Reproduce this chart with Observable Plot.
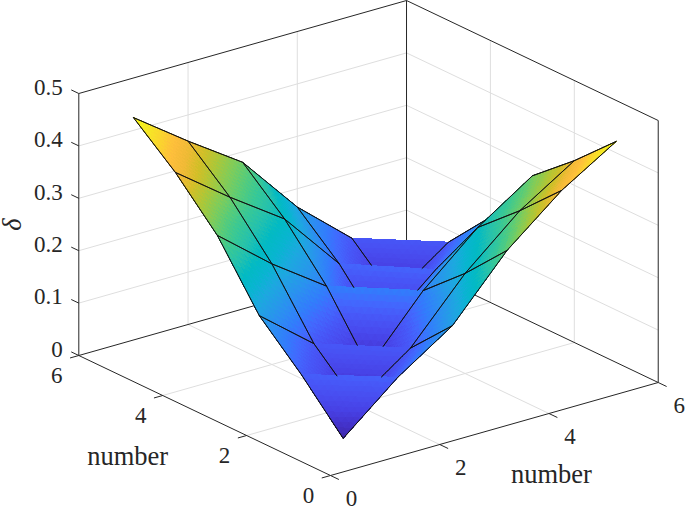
<!DOCTYPE html>
<html>
<head>
<meta charset="utf-8">
<script src="https://cdn.jsdelivr.net/npm/d3@7"></script>
<script src="https://cdn.jsdelivr.net/npm/@observablehq/plot@0.6"></script>
<style>html,body{margin:0;padding:0;background:#fff}svg{display:block}</style>
</head>
<body>
<div id="chart"></div>
<script>
// ---- data ----
const numbers = [1, 2, 3, 4, 5, 6];
const deltaY1 = [0.003, 0.090, 0.159, 0.273, 0.358, 0.422];
const deltaY2 = [0.087, 0.004, 0.078, 0.191, 0.281, 0.347];
const deltaY3 = [0.161, 0.078, 0.004, 0.120, 0.211, 0.280];
const deltaY4 = [0.276, 0.192, 0.120, 0.003, 0.0925, 0.163];
const deltaY5 = [0.358, 0.281, 0.210, 0.095, 0.003, 0.077];
const deltaY6 = [0.4245, 0.350, 0.280, 0.165, 0.076, 0.002];
const deltaRows = [deltaY1, deltaY2, deltaY3, deltaY4, deltaY5, deltaY6];
const xyTicks = [0, 2, 4, 6];
const zTicks = [0, 0.1, 0.2, 0.3, 0.4, 0.5];
const zTickLabels = ["0", "0.1", "0.2", "0.3", "0.4", "0.5"];
const axisLabel = "number";
const zLabel = "δ";

// parula colour map
const parula = [
  [0.2422,0.1504,0.6603],[0.2647,0.1978,0.7952],[0.2783,0.2559,0.8991],[0.2813,0.3006,0.9414],
  [0.2795,0.3447,0.9717],[0.2602,0.4123,0.9952],[0.1963,0.4847,0.9892],[0.1764,0.5499,0.9520],
  [0.1460,0.6091,0.9079],[0.1113,0.6635,0.8763],[0.0297,0.7082,0.8163],[0.0067,0.7312,0.7660],
  [0.1408,0.7584,0.6842],[0.2161,0.7843,0.5923],[0.3406,0.8008,0.4789],[0.5044,0.7993,0.3480],
  [0.6720,0.7793,0.2227],[0.8203,0.7498,0.1535],[0.9393,0.7288,0.2100],[0.9956,0.7434,0.2371],
  [0.9786,0.8386,0.1766],[0.9597,0.9135,0.1423],[0.9769,0.9839,0.0805]
].map(c => d3.rgb(c[0]*255, c[1]*255, c[2]*255).formatHex());

// ---- view: orthographic projection of the data box (az -37.5) ----
const view = {ox: 330, oy: 475, xx: 54.62, xy: 41.95, yx: 15.5, yy: 20, zy: 524};
const px = (x, y) => view.ox + view.xx * x - view.xy * y;
const py = (x, y, z) => view.oy - view.yx * x - view.yy * y - view.zy * z;
const near = (x, y, z) => -39 * x - 50.8 * y + 206.6 * z;

// ---- triangulated surface ----
const bigTris = [];
for (let j = 0; j < 5; ++j) for (let i = 0; i < 5; ++i) {
  const v = (a, b) => ({x: numbers[a], y: numbers[b], z: deltaRows[b][a]});
  bigTris.push([v(i, j), v(i + 1, j), v(i, j + 1)]);
  bigTris.push([v(i + 1, j), v(i + 1, j + 1), v(i, j + 1)]);
}
const steps = 12;
const lerp3 = (t, a, b, c) => {
  const f = k => (a[k] * t[0] + b[k] * t[1] + c[k] * t[2]) / steps;
  return {x: f("x"), y: f("y"), z: f("z")};
};
const small = [];
for (const [a, b, c] of bigTris) {
  for (let p = 0; p < steps; ++p) for (let q = 0; q < steps - p; ++q) {
    const r = steps - p - q;
    small.push([lerp3([p, q, r], a, b, c), lerp3([p + 1, q, r - 1], a, b, c), lerp3([p, q + 1, r - 1], a, b, c)]);
    if (r >= 2) small.push([lerp3([p + 1, q, r - 1], a, b, c), lerp3([p + 1, q + 1, r - 2], a, b, c), lerp3([p, q + 1, r - 1], a, b, c)]);
  }
}
const centroid = t => ({x: d3.mean(t, d => d.x), y: d3.mean(t, d => d.y), z: d3.mean(t, d => d.z)});
small.sort((s, t) => {
  const a = centroid(s), b = centroid(t);
  return near(a.x, a.y, a.z) - near(b.x, b.y, b.z);
});
const surfaceRows = [];
small.forEach((t, id) => {
  const v = centroid(t).z;
  t.forEach(p => surfaceRows.push({id, v, sx: px(p.x, p.y), sy: py(p.x, p.y, p.z)}));
});

// ---- mesh lines with hidden parts removed ----
function hidden(x, y, z) {
  const sx = px(x, y), sy = py(x, y, z), n = near(x, y, z);
  for (const [a, b, c] of bigTris) {
    const ax = px(a.x, a.y), ay = py(a.x, a.y, a.z);
    const bx = px(b.x, b.y), by = py(b.x, b.y, b.z);
    const cx = px(c.x, c.y), cy = py(c.x, c.y, c.z);
    const den = (by - cy) * (ax - cx) + (cx - bx) * (ay - cy);
    if (Math.abs(den) < 1e-6) continue;
    const l1 = ((by - cy) * (sx - cx) + (cx - bx) * (sy - cy)) / den;
    const l2 = ((cy - ay) * (sx - cx) + (ax - cx) * (sy - cy)) / den;
    const l3 = 1 - l1 - l2;
    if (l1 < 0 || l2 < 0 || l3 < 0) continue;
    const nt = l1 * near(a.x, a.y, a.z) + l2 * near(b.x, b.y, b.z) + l3 * near(c.x, c.y, c.z);
    if (nt > n + 0.6) return true;
  }
  return false;
}
const meshRows = [];
let segId = 0;
function addEdge(p, q) {
  const N = 60;
  for (let k = 0; k < N; ++k) {
    const f = t => ({x: p.x + (q.x - p.x) * t, y: p.y + (q.y - p.y) * t, z: p.z + (q.z - p.z) * t});
    const a = f(k / N), b = f((k + 1) / N), m = f((k + 0.5) / N);
    if (hidden(m.x, m.y, m.z)) continue;
    segId++;
    meshRows.push({id: segId, sx: px(a.x, a.y), sy: py(a.x, a.y, a.z)});
    meshRows.push({id: segId, sx: px(b.x, b.y), sy: py(b.x, b.y, b.z)});
  }
}
const node = (a, b) => ({x: numbers[a], y: numbers[b], z: deltaRows[b][a]});
for (let a = 0; a < 6; ++a) for (let b = 0; b < 6; ++b) {
  if (a < 5) addEdge(node(a, b), node(a + 1, b));
  if (b < 5) addEdge(node(a, b), node(a, b + 1));
}

// ---- box, grid, ticks ----
const seg = (a, b) => ({x1: px(a[0], a[1]), y1: py(a[0], a[1], a[2]), x2: px(b[0], b[1]), y2: py(b[0], b[1], b[2])});
const grid = [];
for (const t of [2, 4]) {
  grid.push(seg([t, 0, 0], [t, 6, 0]), seg([0, t, 0], [6, t, 0]), seg([t, 6, 0], [t, 6, 0.5]), seg([6, t, 0], [6, t, 0.5]));
}
for (const z of zTicks.slice(1, -1)) grid.push(seg([0, 6, z], [6, 6, z]), seg([6, 6, z], [6, 0, z]));
const box = [
  seg([0, 0, 0], [6, 0, 0]), seg([0, 0, 0], [0, 6, 0]), seg([6, 0, 0], [6, 6, 0]), seg([0, 6, 0], [6, 6, 0]),
  seg([0, 6, 0], [0, 6, 0.5]), seg([6, 6, 0], [6, 6, 0.5]), seg([6, 0, 0], [6, 0, 0.5]),
  seg([0, 6, 0.5], [6, 6, 0.5]), seg([6, 6, 0.5], [6, 0, 0.5])
];
const ticks = [];
for (const t of xyTicks) ticks.push(seg([t, 0, 0], [t, -0.2, 0]), seg([0, t, 0], [-0.16, t, 0]));
for (const z of zTicks) ticks.push(seg([0, 6, z], [0, 6.18, z]));

const serif = "Liberation Serif, Times New Roman, serif";
const ink = "#262626";
const tickSize = 23;
const labelSize = 26.5;

const plot = Plot.plot({
  width: 685,
  height: 506,
  marginTop: 0, marginRight: 0, marginBottom: 0, marginLeft: 0,
  x: {domain: [0, 685], range: [0, 685], axis: null},
  y: {domain: [0, 506], range: [0, 506], axis: null},
  color: {type: "linear", domain: d3.extent(deltaRows.flat()), interpolate: d3.piecewise(d3.interpolateRgb, parula)},
  style: {background: "#fff"},
  marks: [
    Plot.link(grid, {x1: "x1", y1: "y1", x2: "x2", y2: "y2", stroke: "#dedede", strokeWidth: 1}),
    Plot.link(box, {x1: "x1", y1: "y1", x2: "x2", y2: "y2", stroke: ink, strokeWidth: 1}),
    Plot.link(ticks, {x1: "x1", y1: "y1", x2: "x2", y2: "y2", stroke: ink, strokeWidth: 1}),
    Plot.line(surfaceRows, {x: "sx", y: "sy", z: "id", fill: "v", stroke: "v", strokeWidth: 1, shapeRendering: "crispEdges", curve: "linear-closed"}),
    Plot.line(meshRows, {x: "sx", y: "sy", z: "id", stroke: "#111", strokeWidth: 1, strokeLinecap: "round"}),
    Plot.text(zTicks, {x: z => px(0, 6), y: z => py(0, 6, z), text: (z, i) => zTickLabels[i], textAnchor: "end", dx: -16, dy: -6, fontSize: tickSize, fontFamily: serif, fill: ink}),
    Plot.text(xyTicks, {x: t => px(0, t), y: t => py(0, t, 0), text: t => String(t), textAnchor: "middle", dx: -22, dy: 20, fontSize: tickSize, fontFamily: serif, fill: ink}),
    Plot.text(xyTicks, {x: t => px(t, 0), y: t => py(t, 0, 0), text: t => String(t), textAnchor: "middle", dx: 21, dy: 23, fontSize: tickSize, fontFamily: serif, fill: ink}),
    Plot.text([axisLabel], {x: () => px(0, 3), y: () => py(0, 3, 0), text: d => d, textAnchor: "middle", dx: -77, dy: 41, fontSize: labelSize, fontFamily: serif, fill: ink}),
    Plot.text([axisLabel], {x: () => px(3, 0), y: () => py(3, 0, 0), text: d => d, textAnchor: "middle", dx: 57, dy: 46, fontSize: labelSize, fontFamily: serif, fill: ink}),
    Plot.text([zLabel], {x: () => px(0, 6), y: () => py(0, 6, 0.25), text: d => d, rotate: -90, textAnchor: "middle", dx: -66, fontSize: labelSize, fontStyle: "italic", fontFamily: serif, fill: ink})
  ]
});
document.getElementById("chart").append(plot);
</script>
</body>
</html>
